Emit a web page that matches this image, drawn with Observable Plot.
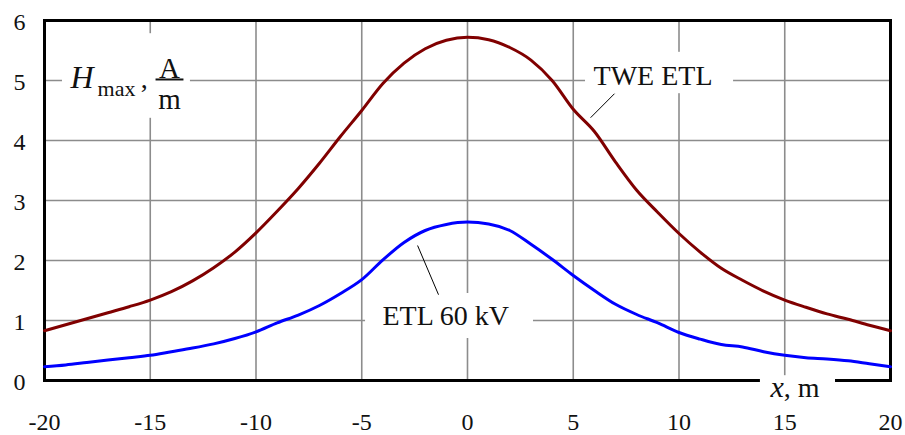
<!DOCTYPE html>
<html>
<head>
<meta charset="utf-8">
<script src="https://cdn.jsdelivr.net/npm/d3@7"></script>
<script src="https://cdn.jsdelivr.net/npm/@observablehq/plot@0.6"></script>
<style>
  html, body { margin: 0; padding: 0; background: #fff; }
  #chart svg { display: block; }
</style>
</head>
<body>
<div id="chart"></div>
<script>
// ---- data ----
const xPos = [-20,-19,-18,-17,-16,-15,-14,-13,-12,-11,-10,-9,-8,-7,-6,-5,-4,-3,-2,-1,0,
              1,2,3,4,5,6,7,8,9,10,11,12,13,14,15,16,17,18,19,20];
const tweEtl = [0.83,0.93,1.03,1.13,1.23,1.34,1.48,1.66,1.88,2.14,2.46,2.82,3.20,3.62,4.07,4.50,4.95,5.29,5.53,5.67,5.72,
                5.68,5.55,5.34,5.00,4.52,4.15,3.64,3.17,2.80,2.45,2.14,1.87,1.67,1.49,1.34,1.22,1.11,1.02,0.92,0.83];
const etl60 = [0.23,0.26,0.30,0.34,0.38,0.42,0.48,0.54,0.61,0.70,0.81,0.96,1.09,1.25,1.45,1.68,2.01,2.30,2.50,2.60,2.64,
               2.61,2.50,2.27,2.02,1.75,1.50,1.27,1.10,0.96,0.80,0.69,0.60,0.56,0.48,0.42,0.38,0.36,0.33,0.28,0.23];
const xTicks = [-20,-15,-10,-5,0,5,10,15,20];
const yTicks = [0,1,2,3,4,5,6];
const seriesNames = ["TWE ETL", "ETL 60 kV"];

const rows = [
  ...xPos.map((x, i) => ({x, y: tweEtl[i], s: seriesNames[0]})),
  ...xPos.map((x, i) => ({x, y: etl60[i], s: seriesNames[1]}))
];

// ---- annotations (in data units) ----
const boxes = [
  {x1: -19.15, x2: -13.1, y1: 4.37, y2: 5.78},   // H_max label
  {x1: 5.58, x2: 12.58, y1: 4.78, y2: 5.47},     // TWE ETL
  {x1: -4.82, x2: 3.12, y1: 0.70, y2: 1.45},     // ETL 60 kV
  {x1: 13.85, x2: 17.4, y1: -0.42, y2: 0.08}     // x, m
];
const leaders = [
  {x1: 5.82, y1: 4.38, x2: 6.95, y2: 4.78},
  {x1: -2.36, y1: 2.25, x2: -1.37, y2: 1.43}
];
const seriesLabels = [
  {x: 5.96, y: 4.92, t: seriesNames[0]},
  {x: -4.02, y: 0.92, t: seriesNames[1]}
];

const font = "Liberation Serif, Times New Roman, serif";
const ink = "#111";

const plot = Plot.plot({
  width: 905,
  height: 435,
  marginLeft: 44,
  marginRight: 15,
  marginTop: 20,
  marginBottom: 55,
  x: {domain: [-20, 20]},
  y: {domain: [0, 6]},
  color: {domain: seriesNames, range: ["#800000", "#0000ff"]},
  style: {fontFamily: font, background: "#fff", color: ink, overflow: "visible"},
  marks: [
    Plot.gridX(xTicks, {stroke: "#8c8c8c", strokeOpacity: 1, strokeWidth: 1.6}),
    Plot.gridY(yTicks, {stroke: "#8c8c8c", strokeOpacity: 1, strokeWidth: 1.6}),
    Plot.frame({stroke: "#000", strokeWidth: 3}),
    Plot.rect(boxes, {x1: "x1", x2: "x2", y1: "y1", y2: "y2", fill: "#fff"}),
    Plot.axisX(xTicks, {tickSize: 0, tickPadding: 32, fontSize: 24, tickFormat: d => String(d), label: null}),
    Plot.axisY(yTicks, {tickSize: 0, tickPadding: 19, fontSize: 24, tickFormat: d => String(d), label: null, dy: 2}),
    Plot.line(rows, {x: "x", y: "y", z: "s", stroke: "s", strokeWidth: 3, strokeLinejoin: "round", curve: "monotone-x"}),
    Plot.link(leaders, {x1: "x1", y1: "y1", x2: "x2", y2: "y2", stroke: "#000", strokeWidth: 1}),
    Plot.text(seriesLabels, {x: "x", y: "y", text: "t", textAnchor: "start", lineAnchor: "bottom", fontSize: 28, fill: ink}),
    // y-axis title: H_max , A/m
    Plot.text(["H"], {x: -18.77, y: 4.88, textAnchor: "start", lineAnchor: "bottom", fontSize: 32, fontStyle: "italic", fill: ink}),
    Plot.text(["max"], {x: -17.49, y: 4.75, textAnchor: "start", lineAnchor: "bottom", fontSize: 22, fill: ink}),
    Plot.text([","], {x: -15.45, y: 4.88, textAnchor: "start", lineAnchor: "bottom", fontSize: 28, fill: ink}),
    Plot.text(["A"], {x: -14.09, y: 5.05, textAnchor: "middle", lineAnchor: "bottom", fontSize: 29, fill: ink}),
    Plot.link([0], {x1: -14.75, x2: -13.43, y1: 5.017, y2: 5.017, stroke: ink, strokeWidth: 2}),
    Plot.text(["m"], {x: -14.09, y: 4.52, textAnchor: "middle", lineAnchor: "bottom", fontSize: 29, fill: ink}),
    // x-axis title: x, m
    Plot.text(["x"], {x: 14.33, y: -0.283, textAnchor: "start", lineAnchor: "bottom", fontSize: 30, fontStyle: "italic", fill: ink}),
    Plot.text([", m"], {x: 14.95, y: -0.283, textAnchor: "start", lineAnchor: "bottom", fontSize: 28, fill: ink})
  ]
});
document.getElementById("chart").appendChild(plot);
</script>
</body>
</html>
